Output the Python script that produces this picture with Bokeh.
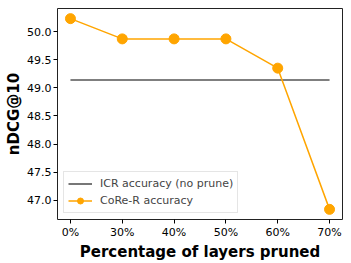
from bokeh.plotting import figure
from bokeh.models import FixedTicker, NumeralTickFormatter, Legend, LegendItem
from bokeh.embed import file_html
from bokeh.resources import INLINE

tick_labels = ["0%", "30%", "40%", "50%", "60%", "70%"]
core_r = [50.23, 49.87, 49.87, 49.87, 49.35, 46.84]
icr_value = 49.14
y_ticks = [47.0, 47.5, 48.0, 48.5, 49.0, 49.5, 50.0]

xs = list(range(len(tick_labels)))

p = figure(width=351, height=263, output_backend="svg", toolbar_location=None,
           x_range=(-0.25, 5.25), y_range=(46.66, 50.41),
           min_border_left=57, min_border_right=9, min_border_top=8, min_border_bottom=0)

font = "DejaVu Sans"
icr = p.line([xs[0], xs[-1]], [icr_value, icr_value], line_color="#555555", line_width=1.6)
cl = p.line(xs, core_r, line_color="orange", line_width=1.5)
cs = p.scatter(xs, core_r, size=10, fill_color="orange", line_color="orange")

p.xaxis.ticker = FixedTicker(ticks=xs)
p.xaxis.major_label_overrides = {i: t for i, t in enumerate(tick_labels)}
p.yaxis.ticker = FixedTicker(ticks=y_ticks)
p.yaxis.formatter = NumeralTickFormatter(format="0.0")

p.xaxis.axis_label = "Percentage of layers pruned"
p.yaxis.axis_label = "nDCG@10"
for ax in (p.xaxis[0], p.yaxis[0]):
    ax.axis_label_text_font = font
    ax.axis_label_text_font_style = "bold"
    ax.axis_label_text_font_size = "15px"
    ax.axis_label_text_color = "black"
    ax.major_label_text_font = font
    ax.major_label_text_font_size = "11px"
    ax.major_label_text_color = "black"
    ax.axis_line_color = None
    ax.major_tick_line_color = "black"
    ax.major_tick_out = 4
    ax.major_tick_in = 0
    ax.minor_tick_line_color = None
    ax.major_label_standoff = 2
    ax.axis_label_standoff = 1

p.xgrid.grid_line_color = None
p.ygrid.grid_line_color = None
p.outline_line_color = "#222222"
p.outline_line_width = 1

legend = Legend(items=[
    LegendItem(label="ICR accuracy (no prune)", renderers=[icr]),
    LegendItem(label="CoRe-R accuracy", renderers=[cl, cs]),
], location="bottom_left")
legend.label_text_font = font
legend.label_text_font_size = "11px"
legend.glyph_width = 24
legend.glyph_height = 15
legend.label_height = 15
legend.label_standoff = 8
legend.spacing = 2
legend.padding = 4
legend.margin = 6
legend.border_line_color = "#cccccc"
legend.background_fill_alpha = 0.8
p.add_layout(legend)

open("out.html", "w").write(file_html(p, INLINE))
